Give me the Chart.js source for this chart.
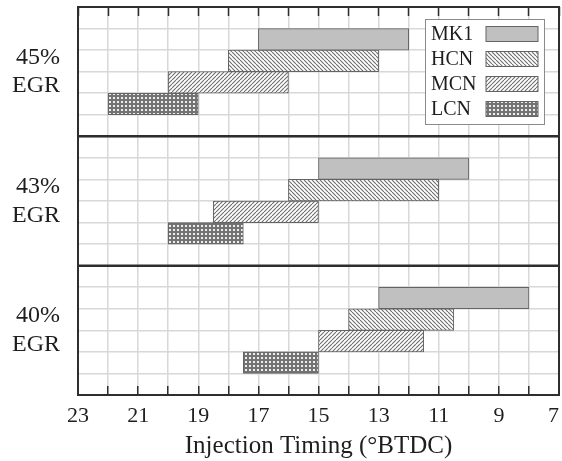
<!DOCTYPE html>
<html><head><meta charset="utf-8">
<script src="https://cdn.jsdelivr.net/npm/chart.js@4"></script>
<style>html,body{margin:0;padding:0;background:#fff}#wrap{width:562px;height:461px;position:relative}</style>
</head><body><div id="wrap"><canvas id="c"></canvas></div>
<script>
// ---- data ----
const panels = [['45%','EGR'],['43%','EGR'],['40%','EGR']];
const fuels = ['MK1','HCN','MCN','LCN'];
// [start, end] injection timing (°BTDC), per panel (45%, 43%, 40% EGR)
const mk1 = [[17,12],[15,10],[13,8]];
const hcn = [[18,13],[16,11],[14,10.5]];
const mcn = [[20,16],[18.5,15],[15,11.5]];
const lcn = [[22,19],[20,17.5],[17.5,15]];
const xTickLabels = [23,21,19,17,15,13,11,9,7];
const xMin = 7, xMax = 23;

// ---- build rows: each panel = blank, MK1, HCN, MCN, LCN, blank ----
const rowsPerPanel = fuels.length + 2;
const rowLabels = [];
panels.forEach((p, pi) => {
  for (let r = 0; r < rowsPerPanel; r++) rowLabels.push(pi + '-' + r);
});
function rowData(series, fi) {
  const arr = new Array(rowLabels.length).fill(null);
  series.forEach((v, pi) => { arr[pi * rowsPerPanel + 1 + fi] = v; });
  return arr;
}

const canvas = document.getElementById('c');
const cctx = canvas.getContext('2d');
function hatch(dir) {
  const s = 4, c = document.createElement('canvas');
  c.width = c.height = s;
  const g = c.getContext('2d');
  g.fillStyle = '#ffffff'; g.fillRect(0, 0, s, s);
  g.strokeStyle = '#6e6e6e'; g.lineWidth = 1.1;
  g.beginPath();
  for (const o of [-s, 0, s]) {
    if (dir > 0) { g.moveTo(o, s); g.lineTo(o + s, 0); }
    else { g.moveTo(o, 0); g.lineTo(o + s, s); }
  }
  g.stroke();
  return cctx.createPattern(c, 'repeat');
}
function mesh() {
  const s = 4, c = document.createElement('canvas');
  c.width = c.height = s;
  const g = c.getContext('2d');
  g.fillStyle = '#737373'; g.fillRect(0, 0, s, s);
  g.fillStyle = '#eeeeee'; g.fillRect(1, 1, 2, 2);
  return cctx.createPattern(c, 'repeat');
}
const fills = ['#c0c0c0', hatch(-1), hatch(1), mesh()];
const seriesList = [mk1, hcn, mcn, lcn];

const FONT = "'Liberation Serif', 'Times New Roman', serif";
const INK = '#1e1e1e';

const framePlugin = {
  id: 'frame',
  afterDatasetsDraw(chart) {
    const {ctx, chartArea: a, scales: {y}} = chart;
    ctx.save();
    ctx.strokeStyle = '#2e2e2e';
    ctx.lineWidth = 2.5;
    for (let p = 1; p < panels.length; p++) {
      const i = p * rowsPerPanel;
      const yy = (y.getPixelForValue(i - 1) + y.getPixelForValue(i)) / 2;
      ctx.beginPath(); ctx.moveTo(a.left, yy); ctx.lineTo(a.right, yy); ctx.stroke();
    }
    ctx.lineWidth = 2;
    ctx.strokeRect(a.left, a.top, a.right - a.left, a.bottom - a.top);
    ctx.restore();
  }
};

const legendPlugin = {
  id: 'boxLegend',
  afterDraw(chart) {
    const {ctx, chartArea: a} = chart;
    const w = 119, h = 105, rowH = 25;
    const bx = a.right - 15 - w, by = a.top + 12;
    ctx.save();
    ctx.fillStyle = '#fff';
    ctx.fillRect(bx, by, w, h);
    ctx.strokeStyle = '#8a8a8a'; ctx.lineWidth = 1;
    ctx.strokeRect(bx + 0.5, by + 0.5, w, h);
    ctx.font = '20px ' + FONT;
    ctx.textBaseline = 'middle';
    chart.data.datasets.forEach((ds, i) => {
      const cy = by + 15 + i * rowH;
      ctx.fillStyle = INK;
      ctx.fillText(ds.label, bx + 6, cy + 1);
      ctx.fillStyle = ds.backgroundColor;
      ctx.fillRect(bx + 61, cy - 7.5, 52, 15);
      ctx.strokeStyle = ds.borderColor; ctx.lineWidth = 1;
      ctx.strokeRect(bx + 61, cy - 7.5, 52, 15);
    });
    ctx.restore();
  }
};

function draw() {
  new Chart(canvas, {
    type: 'bar',
    data: {
      labels: rowLabels,
      datasets: fuels.map((f, fi) => ({
        label: f,
        data: rowData(seriesList[fi], fi),
        backgroundColor: fills[fi],
        borderColor: '#646464',
        borderWidth: 1,
        borderSkipped: false,
        grouped: false,
        barPercentage: 1,
        categoryPercentage: 1
      }))
    },
    options: {
      indexAxis: 'y',
      responsive: true,
      maintainAspectRatio: false,
      animation: false,
      layout: {padding: {top: 7, right: 3, left: 0, bottom: 0}},
      plugins: {legend: {display: false}, tooltip: {enabled: false}},
      scales: {
        x: {
          type: 'linear', position: 'bottom', reverse: true, min: xMin, max: xMax,
          ticks: {
            stepSize: 1, autoSkip: false, maxRotation: 0,
            // the edge label sits inside the frame, as in the original
            callback: v => !xTickLabels.includes(v) ? '' : (v === xMin ? String(v) + '\u2002' : String(v)),
            font: {family: FONT, size: 22}, color: INK, padding: 17
          },
          grid: {color: '#d8d8d8', lineWidth: 1.5, tickLength: -9, tickColor: '#2e2e2e', tickWidth: 1.5},
          border: {display: false},
          title: {display: true, text: 'Injection Timing (°BTDC)', font: {family: FONT, size: 25}, color: INK, padding: {top: 1, bottom: 0}},
          afterFit(s) { s.height = 66; s.paddingLeft = 0; s.paddingRight = 0; }
        },
        x2: {
          type: 'linear', position: 'top', reverse: true, min: xMin, max: xMax,
          ticks: {display: false, stepSize: 1},
          grid: {drawOnChartArea: false, tickLength: -9, tickColor: '#2e2e2e', tickWidth: 1.5},
          border: {display: false},
          afterFit(s) { s.height = 0; s.paddingLeft = 0; s.paddingRight = 0; }
        },
        y: {
          type: 'category', offset: true,
          grid: {offset: true, color: '#d8d8d8', lineWidth: 1.5, drawTicks: false},
          ticks: {display: false},
          border: {display: false},
          afterFit(s) { s.width = 0; s.paddingTop = 0; s.paddingBottom = 0; }
        },
        yp: {
          type: 'category', position: 'left', labels: panels, offset: true,
          grid: {display: false, drawTicks: false},
          border: {display: false},
          ticks: {font: {family: FONT, size: 24, lineHeight: 1.2}, color: INK, padding: 18},
          afterFit(s) { s.width = 78; s.paddingTop = 0; s.paddingBottom = 0; }
        }
      }
    },
    plugins: [framePlugin, legendPlugin]
  });
}
const fontLoads = ['20px "Liberation Serif"', '22px "Liberation Serif"', '24px "Liberation Serif"', '25px "Liberation Serif"'].map(f => document.fonts.load(f));
Promise.all(fontLoads).then(draw, draw);
</script>
</body></html>
